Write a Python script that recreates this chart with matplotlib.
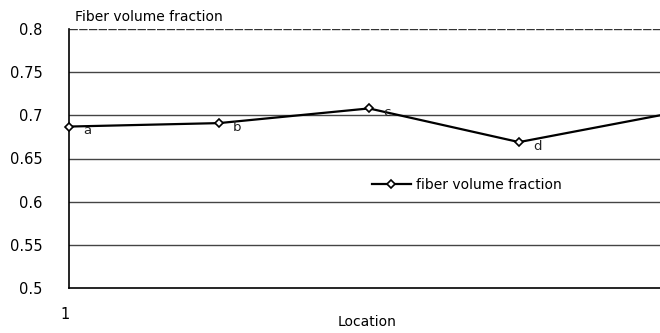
import matplotlib
matplotlib.use("Agg")
import matplotlib.pyplot as plt
from matplotlib.transforms import ScaledTranslation

plt.rcParams['font.family'] = ['DejaVu Sans']

locations = [1, 2, 3, 4, 5]
fiber_fraction = [0.687, 0.691, 0.708, 0.669, 0.702]
point_labels = ['a', 'b', 'c', 'd', '']
y_ticks = [0.5, 0.55, 0.6, 0.65, 0.7, 0.75, 0.8]
y_tick_labels = ['0.5', '0.55', '0.6', '0.65', '0.7', '0.75', '0.8']

fig = plt.figure(figsize=(6.6, 3.33), dpi=100)
ax = fig.add_axes([69/660, 1-288/333, 600/660, (288-29)/333])

ax.plot(locations, fiber_fraction, color='black', lw=1.6, marker='D',
        markersize=4.5, markerfacecolor='white', markeredgecolor='black',
        markeredgewidth=1.2, label='fiber volume fraction', clip_on=False, zorder=3)

for x, y, t in zip(locations, fiber_fraction, point_labels):
    if t:
        ax.annotate(t, (x, y), xytext=(18, -4), textcoords='offset pixels',
                    fontsize=9.5, ha='center', va='center', color='#222222')

ax.set_xlim(1, 5)
ax.set_ylim(0.5, 0.8)
ax.set_yticks(y_ticks)
ax.set_yticklabels(y_tick_labels, fontsize=10.5)
ax.set_xticks([1])
ax.set_xticklabels(['1'], fontsize=10.5)
ax.tick_params(axis='y', length=0, pad=19)
ax.tick_params(axis='x', length=0, pad=14)
for lbl in ax.get_xticklabels():
    lbl.set_transform(lbl.get_transform() + ScaledTranslation(-0.04, 0, fig.dpi_scale_trans))

for v in y_ticks[1:-1]:
    ax.axhline(v, color='#444444', lw=1.0, zorder=1)
ax.axhline(0.8, color='#333333', lw=1.0, ls=(0, (6, 1)), zorder=1)

for s in ['top', 'right']:
    ax.spines[s].set_visible(False)
ax.spines['left'].set_linewidth(1.2)
ax.spines['bottom'].set_linewidth(1.2)

ax.set_xlabel('Location', fontsize=10)
ax.xaxis.set_label_coords((367-69)/600, -(315-288)/259)

fig.text(75/660, 1-17/333, 'Fiber volume fraction', fontsize=10, va='center', ha='left')

ax.legend(loc='center left', bbox_to_anchor=((372-69)/600, 1-(185-29)/259),
          frameon=False, fontsize=10, handlelength=2.8, handletextpad=0.4,
          borderaxespad=0, borderpad=0)

fig.savefig('out.png', dpi=100)
